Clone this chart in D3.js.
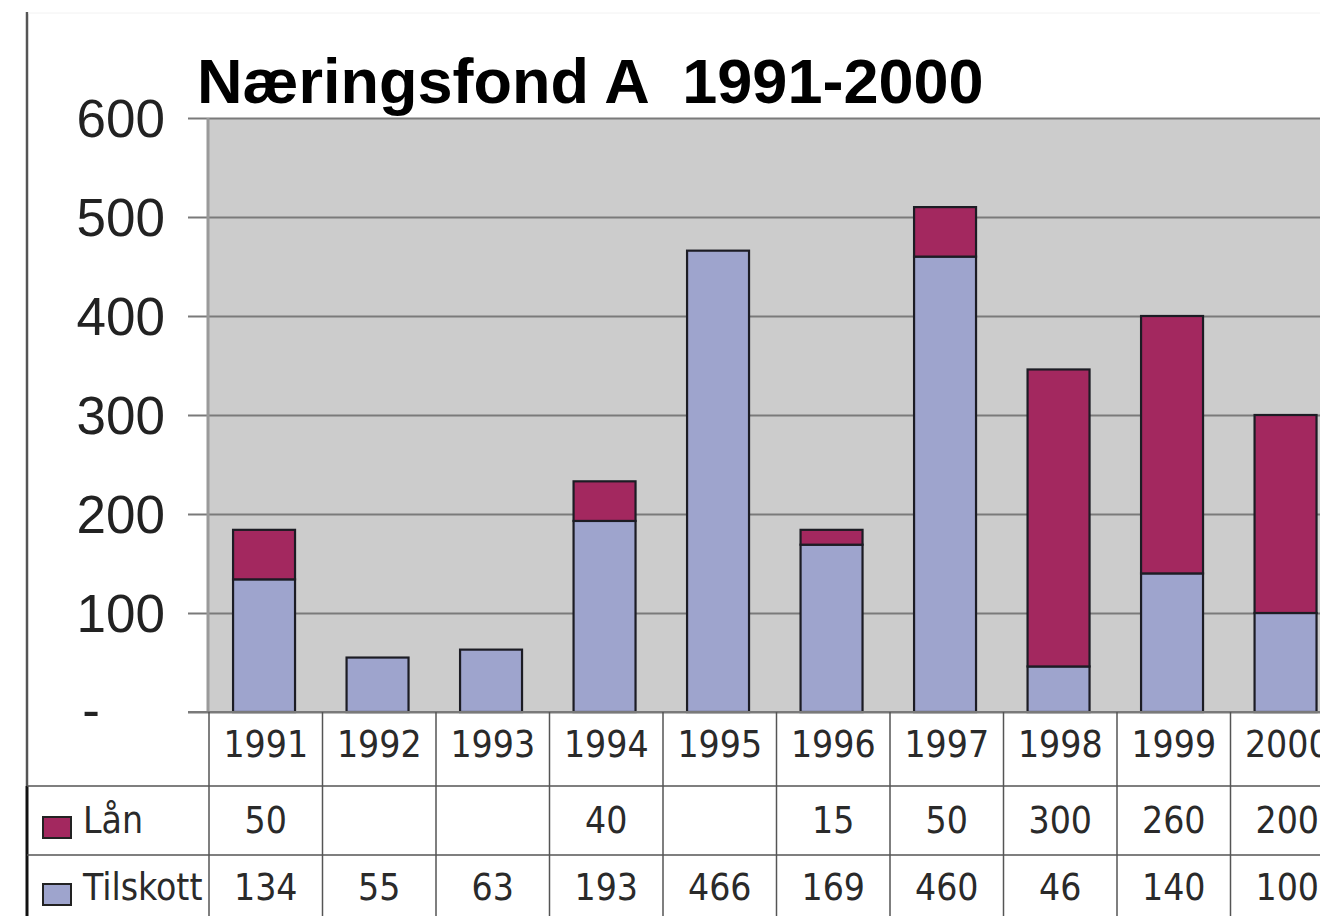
<!DOCTYPE html>
<html>
<head>
<meta charset="utf-8">
<script src="https://cdn.jsdelivr.net/npm/d3@7"></script>
<style>
  html, body { margin: 0; padding: 0; background: #ffffff; }
  svg { display: block; }
  .tbl { font-family: "DejaVu Sans Condensed", "DejaVu Sans", sans-serif; font-stretch: condensed; font-size: 37px; fill: #2a2a2a; }
</style>
</head>
<body>
<svg id="chart" width="1320" height="916"></svg>
<script>
const years = ["1991","1992","1993","1994","1995","1996","1997","1998","1999","2000"];
const tilskott = [134, 55, 63, 193, 466, 169, 460, 46, 140, 100];
const lan = [50, null, null, 40, null, 15, 50, 300, 260, 200];
const seriesNames = ["Lån", "Tilskott"];
const seriesColors = ["#a3285f", "#9ea4cd"];
const yTicks = [0, 100, 200, 300, 400, 500, 600];
const titleText = "Næringsfond A  1991-2000";

const svg = d3.select("#chart");
const plotL = 209, plotR = 1344, plotT = 118, plotB = 712;
const rowLines = [712, 786, 855, 930];

const x = d3.scaleBand().domain(years).range([plotL, plotR]).padding(0);
const y = d3.scaleLinear().domain([0, 600]).range([plotB, plotT]);
const bw = x.bandwidth();

// outer left rule
svg.append("line").attr("x1", 27).attr("x2", 27).attr("y1", 12).attr("y2", rowLines[1])
  .attr("stroke", "#555").attr("stroke-width", 2.5);
svg.append("line").attr("x1", 27).attr("x2", 27).attr("y1", rowLines[1]).attr("y2", 916)
  .attr("stroke", "#111").attr("stroke-width", 3);
svg.append("line").attr("x1", 28).attr("x2", 1320).attr("y1", 13).attr("y2", 13)
  .attr("stroke", "#f2f2f2").attr("stroke-width", 1);

// plot background
svg.append("rect").attr("x", plotL - 2).attr("y", plotT).attr("width", plotR - plotL + 2).attr("height", plotB - plotT)
  .attr("fill", "#cccccc");

// y axis with gridlines
const yAxis = d3.axisLeft(y).tickValues(yTicks).tickSize(0).tickFormat(d => d === 0 ? "-" : d3.format("d")(d));
const gy = svg.append("g").attr("transform", `translate(${plotL - 2},0)`).call(yAxis);
gy.select(".domain").remove();
gy.selectAll(".tick line").attr("x1", -19).attr("x2", plotR).attr("stroke", "#7a7a7a").attr("stroke-width", 2);
gy.selectAll(".tick text")
  .attr("x", d => d === 0 ? -107 : -42)
  .attr("dy", d => d === 0 ? "0.3em" : "0.35em")
  .attr("font-family", "'Liberation Sans', Arial, sans-serif")
  .attr("font-size", 53)
  .attr("fill", "#222");

// plot left edge
svg.append("line").attr("x1", plotL - 1).attr("x2", plotL - 1).attr("y1", plotT).attr("y2", plotB)
  .attr("stroke", "#9a9a9a").attr("stroke-width", 3);

// stacked bars
const stackData = years.map((yr, i) => ({ year: yr, Tilskott: tilskott[i] || 0, "Lån": lan[i] || 0 }));
const stack = d3.stack().keys(["Tilskott", "Lån"])(stackData);
const color = d3.scaleOrdinal().domain(seriesNames).range(seriesColors);
svg.append("g").selectAll("g").data(stack).join("g")
  .attr("fill", d => color(d.key))
  .selectAll("rect").data(d => d.filter(p => p[1] - p[0] > 0)).join("rect")
  .attr("x", d => x(d.data.year) + bw * 0.212)
  .attr("width", bw * 0.546)
  .attr("y", d => y(d[1]))
  .attr("height", d => y(d[0]) - y(d[1]))
  .attr("stroke", "#1c1c24").attr("stroke-width", 2.2);

// zero line
svg.append("line").attr("x1", plotL - 21).attr("x2", 1320).attr("y1", plotB).attr("y2", plotB)
  .attr("stroke", "#7a7a7a").attr("stroke-width", 2);

// data table
const tbl = svg.append("g");
[rowLines[1], rowLines[2]].forEach(ly => {
  tbl.append("line").attr("x1", 27).attr("x2", 1320).attr("y1", ly).attr("y2", ly)
    .attr("stroke", "#555").attr("stroke-width", 1.5);
});
const colEdges = years.map(yr => x(yr));
tbl.selectAll("line.col").data(colEdges).join("line").attr("class", "col")
  .attr("x1", d => d).attr("x2", d => d).attr("y1", plotB).attr("y2", 916)
  .attr("stroke", "#555").attr("stroke-width", 1.5);

tbl.selectAll("text.yr").data(years).join("text").attr("class", "tbl yr")
  .attr("x", d => x(d) + bw / 2).attr("y", 757).attr("text-anchor", "middle").text(d => d);
tbl.selectAll("text.lan").data(years).join("text").attr("class", "tbl lan")
  .attr("x", d => x(d) + bw / 2).attr("y", 833).attr("text-anchor", "middle")
  .text((d, i) => lan[i] == null ? "" : lan[i]);
tbl.selectAll("text.til").data(years).join("text").attr("class", "tbl til")
  .attr("x", d => x(d) + bw / 2).attr("y", 900).attr("text-anchor", "middle")
  .text((d, i) => tilskott[i]);

// legend keys in table
const rowTextY = [833, 900];
seriesNames.forEach((nm, i) => {
  tbl.append("rect").attr("x", 43).attr("y", rowTextY[i] - 16).attr("width", 28).attr("height", 21)
    .attr("fill", color(nm)).attr("stroke", "#222").attr("stroke-width", 2);
  tbl.append("text").attr("class", "tbl").attr("x", 83).attr("y", rowTextY[i]).text(nm);
});

// title
svg.append("text").attr("x", 197).attr("y", 103)
  .attr("font-family", "'Liberation Sans', Arial, sans-serif").attr("font-weight", "bold")
  .attr("font-size", 63).attr("fill", "#000").style("white-space", "pre")
  .text(titleText);
</script>
</body>
</html>
